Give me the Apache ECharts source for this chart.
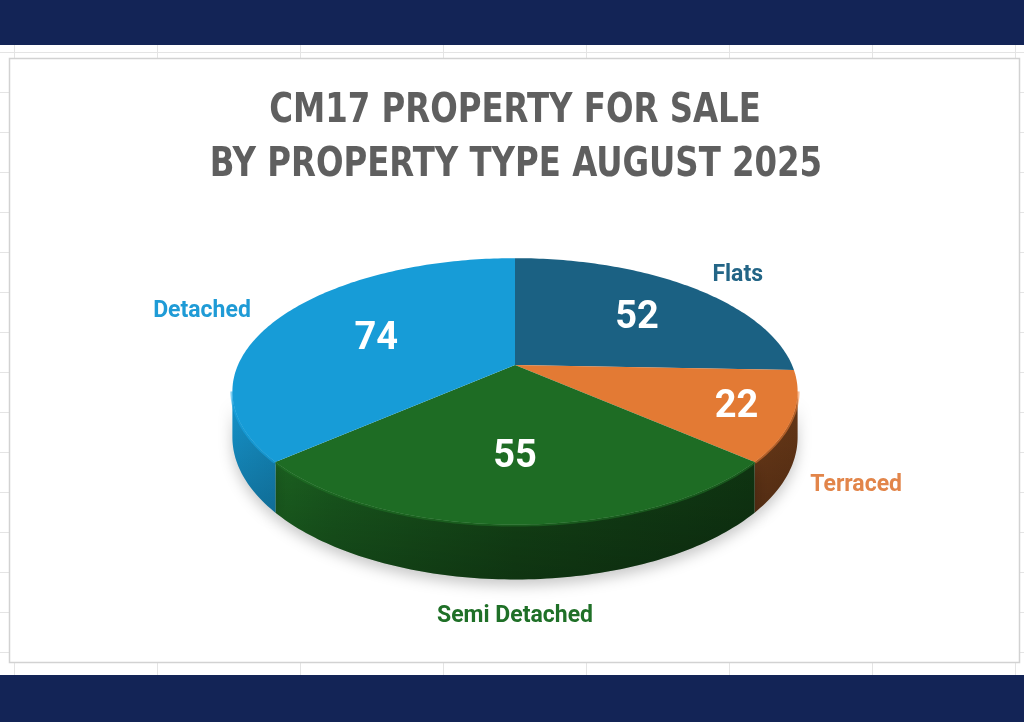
<!DOCTYPE html>
<html>
<head>
<meta charset="utf-8">
<script src="https://cdn.jsdelivr.net/npm/echarts@6/dist/echarts.min.js"></script>
<style>
    html, body { margin: 0; padding: 0; }
    body {
        width: 1024px; height: 722px; overflow: hidden;
        background-color: #ffffff;
        background-image:
            linear-gradient(to right, #e4e4e4 1px, transparent 1px),
            linear-gradient(to bottom, #e4e4e4 1px, transparent 1px);
        background-size: 143px 40px;
        background-position: 14px 12px;
    }
    #chart { width: 1024px; height: 722px; }
</style>
</head>
<body>
<div id="chart"></div>
<script>
    // 数据
    var titleLines = ['CM17 PROPERTY FOR SALE', 'BY PROPERTY TYPE AUGUST 2025'];
    var categories = ['Flats', 'Terraced', 'Semi Detached', 'Detached'];
    var values = [52, 22, 55, 74];
    var colors = ['#1b6183', '#e37a34', '#1e6c24', '#179cd7'];
    var labelColors = ['#236586', '#e2854a', '#1f7027', '#1f9bd6'];

    // 3D 饼图投影参数
    var cx = 515, cy = 365,
        rx = 277, ry = 128,
        persp = 0.198,
        depth = 44;
    // 标签微调 [内半径, 内角偏移, 外半径, 外角偏移] (仿 Excel 的摆放)
    var labelTweak = [
        [0.63, 3, 1.26, 2],
        [0.81, 0, 1.30, 15],
        [0.62, 0, 1.40, 0],
        [0.57, -1, 1.33, -3]
    ];

    var total = 0;
    for (var i = 0; i < values.length; i++) total += values[i];
    var angles = [];
    var acc = 0;
    for (var i = 0; i < values.length; i++) {
        var a0 = acc / total * 360;
        acc += values[i];
        angles.push([a0, acc / total * 360]);
    }

    function proj(r, deg, drop) {
        var t = deg * Math.PI / 180;
        var X = r * Math.sin(t), Z = -r * Math.cos(t);
        var w = 1 / (1 - persp * Z);
        return [cx + rx * X * w, cy + ry * Z * w + (drop || 0) * w];
    }

    function shade(hex, k) {
        var n = parseInt(hex.slice(1), 16);
        var r = Math.min(255, Math.round(((n >> 16) & 255) * k)),
            g = Math.min(255, Math.round(((n >> 8) & 255) * k)),
            b = Math.min(255, Math.round((n & 255) * k));
        return 'rgb(' + r + ',' + g + ',' + b + ')';
    }

    // 可见侧面角度范围
    var vis0 = Math.acos(-persp) * 180 / Math.PI,
        vis1 = 360 - vis0;

    function wallItem(params, api) {
        var idx = params.dataIndex;
        var a = Math.max(angles[idx][0], vis0),
            b = Math.min(angles[idx][1], vis1);
        if (b <= a) return null;
        var rim = [], pts = [];
        for (var d = a; d <= b; d += 1) rim.push(proj(1, d));
        rim.push(proj(1, b));
        pts = rim.slice();
        for (var d = b; d >= a; d -= 1) pts.push(proj(1, d, depth));
        pts.push(proj(1, a, depth));
        var c = colors[api.value(1)];
        var left = cx - rx * 1.02, right = cx + rx * 1.02;
        return {
            type: 'group',
            children: [{
                type: 'polygon',
                shape: { points: pts },
                style: {
                    fill: new echarts.graphic.LinearGradient(left, 0, right, 0, [
                        { offset: 0, color: shade(c, 0.95) },
                        { offset: 0.18, color: shade(c, 0.8) },
                        { offset: 0.5, color: shade(c, 0.62) },
                        { offset: 0.8, color: shade(c, 0.52) },
                        { offset: 1, color: shade(c, 0.45) }
                    ], true),
                    shadowColor: 'rgba(0,0,0,0.22)',
                    shadowBlur: 14,
                    shadowOffsetY: 6
                }
            }, {
                type: 'polygon',
                shape: { points: pts },
                style: {
                    fill: new echarts.graphic.LinearGradient(0, 0, 0, 1, [
                        { offset: 0, color: 'rgba(0,0,0,0)' },
                        { offset: 1, color: 'rgba(0,0,0,0.22)' }
                    ])
                }
            }, {
                type: 'polyline',
                shape: { points: rim },
                style: {
                    stroke: shade(c, 1.08),
                    lineWidth: 4,
                    opacity: 0.55,
                    fill: null
                }
            }]
        };
    }

    function topItem(params, api) {
        var idx = params.dataIndex;
        var a = angles[idx][0], b = angles[idx][1];
        var pts = [[cx, cy]];
        for (var d = a; d <= b; d += 1) pts.push(proj(1, d));
        pts.push(proj(1, b));
        var c = colors[api.value(1)];
        var mid = (a + b) / 2;
        var tw = labelTweak[idx];
        var pIn = proj(tw[0], mid + tw[1]);
        var pOut = proj(tw[2], mid + tw[3]);
        return {
            type: 'group',
            children: [{
                type: 'polygon',
                shape: { points: pts },
                style: { fill: c }
            }, {
                type: 'text',
                x: pIn[0], y: pIn[1] + 2,
                style: {
                    text: String(api.value(0)),
                    fill: '#ffffff',
                    font: 'bold 38px Roboto, "DejaVu Sans", sans-serif',
                    align: 'center', verticalAlign: 'middle'
                }
            }, {
                type: 'text',
                x: pOut[0], y: pOut[1] + 3,
                style: {
                    text: categories[idx],
                    fill: labelColors[idx],
                    font: 'bold 23px Roboto, "DejaVu Sans", sans-serif',
                    align: 'center', verticalAlign: 'middle'
                }
            }]
        };
    }

    var seriesData = [];
    for (var i = 0; i < values.length; i++) seriesData.push([values[i], i]);

    var titleFont = 'bold 40px "DejaVu Sans Condensed", "DejaVu Sans", sans-serif';

    var chart = echarts.init(document.getElementById('chart'));
    var option = {
        backgroundColor: 'transparent',
        animation: false,
        graphic: [
            { type: 'rect', z: -10, shape: { x: 0, y: 0, width: 1024, height: 45 }, style: { fill: '#132456' } },
            { type: 'rect', z: -10, shape: { x: 0, y: 675, width: 1024, height: 47 }, style: { fill: '#132456' } },
            { type: 'rect', z: -10, shape: { x: 9.5, y: 58.5, width: 1010, height: 604 }, style: { fill: '#ffffff', stroke: '#d2d2d2', lineWidth: 1.5 } },
            { type: 'text', x: 515, y: 112, scaleX: 0.9, style: { text: titleLines[0], font: titleFont, fill: '#5f5f5f', align: 'center', verticalAlign: 'middle' } },
            { type: 'text', x: 516, y: 166, scaleX: 0.9, style: { text: titleLines[1], font: titleFont, fill: '#5f5f5f', align: 'center', verticalAlign: 'middle' } }
        ],
        series: [{
            type: 'custom',
            name: 'wall',
            coordinateSystem: 'none',
            z: 1,
            data: seriesData,
            renderItem: wallItem
        }, {
            type: 'custom',
            name: 'top',
            coordinateSystem: 'none',
            z: 2,
            data: seriesData,
            renderItem: topItem
        }]
    };
    chart.setOption(option);
</script>
</body>
</html>
